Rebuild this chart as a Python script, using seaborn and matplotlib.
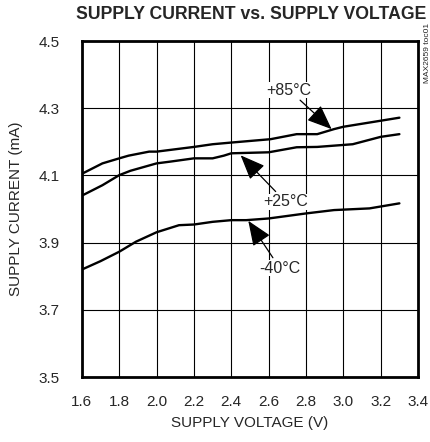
import seaborn as sns
import matplotlib.pyplot as plt
import pandas as pd

# Data
volt_85 = [1.60, 1.71, 1.80, 1.85, 1.96, 2.00, 2.20, 2.30, 2.40, 2.61, 2.75, 2.86, 2.95, 3.00, 3.20, 3.30]
curr_85 = [4.105, 4.136, 4.151, 4.159, 4.171, 4.171, 4.185, 4.193, 4.198, 4.208, 4.223, 4.223, 4.238, 4.245, 4.263, 4.272]

volt_25 = [1.60, 1.71, 1.80, 1.86, 2.00, 2.07, 2.20, 2.30, 2.36, 2.40, 2.60, 2.75, 2.86, 3.05, 3.20, 3.30]
curr_25 = [4.040, 4.071, 4.101, 4.114, 4.136, 4.141, 4.151, 4.151, 4.159, 4.166, 4.169, 4.184, 4.185, 4.193, 4.215, 4.223]

volt_m40 = [1.60, 1.70, 1.80, 1.89, 2.00, 2.12, 2.20, 2.30, 2.40, 2.48, 2.60, 2.80, 2.95, 3.14, 3.30]
curr_m40 = [3.820, 3.845, 3.873, 3.903, 3.931, 3.952, 3.954, 3.962, 3.967, 3.967, 3.972, 3.987, 3.997, 4.002, 4.017]

x_ticks = [1.6, 1.8, 2.0, 2.2, 2.4, 2.6, 2.8, 3.0, 3.2, 3.4]
y_ticks = [3.5, 3.7, 3.9, 4.1, 4.3, 4.5]

df = pd.concat([
    pd.DataFrame({'v': volt_85, 'i': curr_85, 't': '+85°C'}),
    pd.DataFrame({'v': volt_25, 'i': curr_25, 't': '+25°C'}),
    pd.DataFrame({'v': volt_m40, 'i': curr_m40, 't': '-40°C'}),
])

sns.set_style("white")
plt.rcParams['font.family'] = ['Liberation Sans', 'DejaVu Sans']

fig = plt.figure(figsize=(4.31, 4.42), dpi=100)
ax = fig.add_axes([0.190, 0.147, 0.780, 0.760])

sns.lineplot(data=df, x='v', y='i', units='t', estimator=None, color='black',
             linewidth=1.7, sort=False, ax=ax, legend=False)

ax.set_xlim(1.6, 3.4)
ax.set_ylim(3.5, 4.5)
ax.set_xticks(x_ticks)
ax.set_yticks(y_ticks)
ax.set_xticklabels([f"{v:.1f}" for v in x_ticks], fontsize=11)
ax.set_yticklabels([f"{v:.1f}" for v in y_ticks], fontsize=11)
ax.tick_params(axis='x', length=0, pad=13)
ax.tick_params(axis='y', length=0, pad=16)
ax.grid(True, color='black', linewidth=0.8)
for s in ax.spines.values():
    s.set_linewidth(2)
    s.set_color('black')
ax.set_xlabel("SUPPLY VOLTAGE (V)", fontsize=11)
ax.set_ylabel("SUPPLY CURRENT (mA)", fontsize=11)
ax.xaxis.set_label_coords(0.5, -0.117)
ax.yaxis.set_label_coords(-0.175, 0.5)

fig.text(0.583, 0.967, "SUPPLY CURRENT vs. SUPPLY VOLTAGE", ha='center', va='center',
         fontsize=12.7, fontweight='bold')
fig.text(0.991, 0.880, "MAX2659 toc01", rotation=90, ha='center', va='center', fontsize=6)

arrow = dict(arrowstyle='-|>,head_length=1.1,head_width=0.45', color='black',
             linewidth=0.9, mutation_scale=14, shrinkA=2, shrinkB=0)
box = dict(fc='white', ec='none', pad=0.5)
ax.annotate('+85°C', xy=(2.937, 4.238), xytext=(2.71, 4.354), ha='center', va='center',
            fontsize=11.5, arrowprops=arrow, bbox=box)
ax.annotate('+25°C', xy=(2.45, 4.16), xytext=(2.69, 4.022), ha='center', va='center',
            fontsize=11.5, arrowprops=arrow, bbox=box)
ax.annotate('-40°C', xy=(2.491, 3.965), xytext=(2.66, 3.824), ha='center', va='center',
            fontsize=11.5, arrowprops=arrow, bbox=box)

fig.savefig('out.png', dpi=100)
